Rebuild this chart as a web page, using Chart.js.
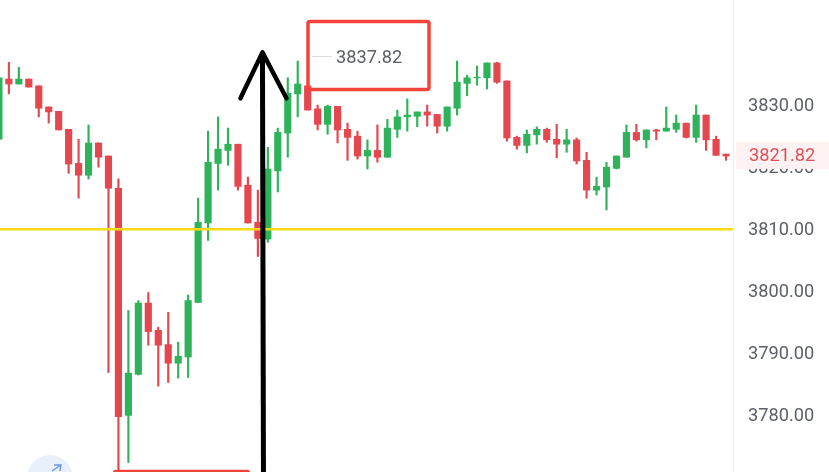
<!doctype html>
<html>
<head>
  <meta charset="utf-8" />
  <title>Candles</title>
  <script src="https://cdn.jsdelivr.net/npm/chart.js"></script>
  <style>
    html, body { margin: 0; padding: 0; background: #fff; overflow: hidden; }
    canvas { display: block; }
  </style>
</head>
<body>
  <canvas id="chart" width="829" height="472"></canvas>

  <script>
    const opens = [3824.5,3834.2,3833.4,3834.2,3833.1,3829.7,3829.0,3826.1,3820.6,3818.7,3823.9,3821.8,3816.6,3780.0,3786.6,3798.1,3793.7,3791.4,3788.4,3789.4,3798.2,3811.0,3820.6,3822.7,3823.7,3817.1,3811.1,3808.4,3819.4,3825.5,3831.8,3833.1,3829.4,3826.9,3829.8,3826.1,3825.0,3821.8,3822.7,3821.6,3826.1,3828.1,3828.2,3828.9,3828.5,3826.6,3829.5,3833.5,3834.4,3834.4,3836.8,3833.9,3824.8,3823.5,3825.2,3826.1,3824.5,3823.7,3824.4,3821.1,3816.3,3816.8,3819.8,3821.6,3825.6,3824.4,3826.0,3825.8,3826.1,3827.1,3824.8,3828.4,3824.5,3822.1];
    const highs = [3834.4,3836.9,3836.1,3834.2,3833.1,3829.7,3829.0,3826.1,3824.5,3826.8,3823.9,3821.8,3818.1,3796.9,3798.5,3799.8,3794.2,3796.6,3791.8,3799.4,3815.0,3825.8,3828.1,3826.3,3823.7,3818.4,3816.3,3823.2,3826.3,3834.4,3837.1,3833.1,3830.0,3830.0,3829.8,3827.1,3825.8,3824.4,3826.8,3827.7,3829.2,3831.0,3828.9,3830.0,3828.5,3829.7,3837.1,3834.8,3836.3,3836.8,3836.9,3833.9,3825.0,3826.0,3826.5,3826.3,3826.9,3826.1,3824.7,3822.4,3818.4,3820.8,3821.8,3826.8,3826.9,3826.0,3826.1,3829.7,3828.4,3827.1,3830.0,3828.4,3825.0,3822.1];
    const lows = [3824.5,3831.8,3833.4,3832.9,3828.1,3827.1,3826.0,3819.0,3815.0,3818.1,3820.0,3786.9,3771.1,3772.4,3786.5,3791.3,3784.7,3785.3,3786.0,3786.1,3798.2,3808.2,3816.3,3820.3,3816.3,3811.0,3805.6,3807.9,3816.0,3821.6,3828.1,3829.2,3826.0,3825.3,3823.9,3821.1,3821.3,3819.7,3820.8,3821.6,3824.8,3825.8,3826.5,3826.6,3825.5,3825.8,3828.4,3831.5,3833.2,3832.6,3833.5,3824.2,3822.9,3822.3,3823.7,3824.0,3821.5,3822.4,3820.5,3815.0,3815.5,3813.1,3819.7,3821.6,3824.2,3823.1,3824.4,3825.8,3825.6,3824.7,3824.0,3822.7,3821.9,3821.1];
    const closes = [3834.4,3833.4,3834.2,3832.9,3829.5,3828.9,3826.0,3820.5,3818.7,3823.9,3821.6,3816.6,3779.8,3786.8,3798.1,3793.5,3791.3,3788.4,3789.5,3798.5,3811.1,3820.8,3822.9,3823.7,3816.9,3811.0,3808.5,3819.7,3825.6,3831.9,3833.4,3829.2,3826.9,3829.8,3826.0,3824.8,3821.8,3822.7,3821.6,3826.3,3828.1,3828.4,3828.9,3828.4,3826.6,3829.7,3833.7,3834.4,3834.5,3836.8,3833.7,3824.7,3823.5,3825.3,3826.1,3824.4,3823.7,3824.4,3821.0,3816.3,3816.9,3820.0,3821.8,3825.6,3824.4,3826.0,3825.8,3826.3,3827.1,3824.8,3828.4,3824.4,3821.9,3821.8];

    const yTicks = [3780, 3790, 3800, 3810, 3820, 3830];
    const supportLevel = 3810;
    const lastPrice = 3821.82;
    const markedPrice = 3837.82;

    // hand drawn arrow, in candle index / price units
    const shaftX = [25.56, 25.46];
    const shaftY = [3770.8, 3838.5];
    const headX = [23.25, 25.46, 27.87];
    const headY = [3831.1, 3838.5, 3831.1];

    const xMin = -0.89, xMax = 72.7;
    const UP = "#2fb35a", DOWN = "#e5474f";
    const FONT = "18.2px Roboto, sans-serif";
    const TEXT = "#5d6068";

    const firstIndex = -1;
    const colors = closes.map((c, i) => c >= opens[i] ? UP : DOWN);
    const wicks = highs.map((h, i) => ({ x: firstIndex + i, y: [lows[i], h] }));
    const bodies = opens.map((o, i) => ({ x: firstIndex + i, y: [o, closes[i]] }));

    const overlay = {
      id: "overlay",
      afterDraw(chart) {
        const ctx = chart.ctx;
        const y = chart.scales.y;
        ctx.save();

        // last price tag covers the axis
        const py = y.getPixelForValue(lastPrice);
        ctx.fillStyle = "#fdf1f1";
        ctx.fillRect(736, py - 14, 93, 27);
        ctx.font = FONT;
        ctx.textBaseline = "middle";
        ctx.textAlign = "left";
        ctx.fillStyle = "#e0505a";
        ctx.fillText(lastPrice.toFixed(2), 749, py + 1);

        // marked price inside the red box
        ctx.strokeStyle = "#f2443a";
        ctx.lineWidth = 3.5;
        ctx.beginPath();
        ctx.roundRect(308, 21.5, 121, 68, 2);
        ctx.stroke();
        ctx.strokeStyle = "#dcdde0";
        ctx.lineWidth = 1;
        ctx.beginPath();
        ctx.moveTo(312, 56.5);
        ctx.lineTo(332, 56.5);
        ctx.stroke();
        ctx.fillStyle = TEXT;
        ctx.fillText(markedPrice.toFixed(2), 336, 58);

        // second box cut by the bottom edge
        ctx.strokeStyle = "#f2443a";
        ctx.lineWidth = 2.5;
        ctx.beginPath();
        ctx.roundRect(114, 471, 135, 20, 2);
        ctx.stroke();

        // round button bottom left
        ctx.fillStyle = "#e8f0fb";
        ctx.beginPath();
        ctx.arc(50, 478, 23, 0, Math.PI * 2);
        ctx.fill();
        ctx.strokeStyle = "#6f97d8";
        ctx.lineWidth = 1.5;
        ctx.beginPath();
        ctx.moveTo(52, 471);
        ctx.lineTo(61, 465);
        ctx.moveTo(54, 465);
        ctx.lineTo(61, 465);
        ctx.lineTo(60, 471);
        ctx.stroke();

        ctx.restore();
      }
    };

    new Chart(document.getElementById("chart"), {
      type: "bar",
      data: {
        datasets: [
          { data: wicks, backgroundColor: colors, barThickness: 1.5, grouped: false, order: 5 },
          { data: bodies, backgroundColor: colors, barThickness: 6.5, grouped: false, order: 4 },
          {
            type: "line",
            data: [{ x: xMin, y: supportLevel }, { x: xMax, y: supportLevel }],
            borderColor: "#f7d916", borderWidth: 2.5, pointRadius: 0, order: 3
          },
          {
            type: "line",
            data: shaftX.map((x, i) => ({ x, y: shaftY[i] })),
            borderColor: "#000", borderWidth: 5, pointRadius: 0, order: 2
          },
          {
            type: "line",
            data: headX.map((x, i) => ({ x, y: headY[i] })),
            borderColor: "#000", borderWidth: 4.5, pointRadius: 0,
            borderCapStyle: "round", borderJoinStyle: "round", order: 1
          }
        ]
      },
      options: {
        responsive: false,
        animation: false,
        layout: { padding: 0 },
        plugins: { legend: { display: false }, tooltip: { enabled: false } },
        scales: {
          x: { type: "linear", offset: false, min: xMin, max: xMax, display: false },
          y: {
            position: "right",
            min: 3770.87,
            max: 3846.94,
            grid: { display: false },
            border: { color: "#f1f2f4" },
            afterBuildTicks: s => { s.ticks = yTicks.map(value => ({ value })); },
            afterFit: s => { s.width = 96; s.paddingTop = 0; s.paddingBottom = 0; },
            ticks: {
              color: TEXT,
              font: { family: "Roboto, sans-serif", size: 18.2 },
              padding: 7,
              labelOffset: 1,
              callback: v => v.toFixed(2)
            }
          }
        }
      },
      plugins: [overlay]
    });
  </script>
</body>
</html>
